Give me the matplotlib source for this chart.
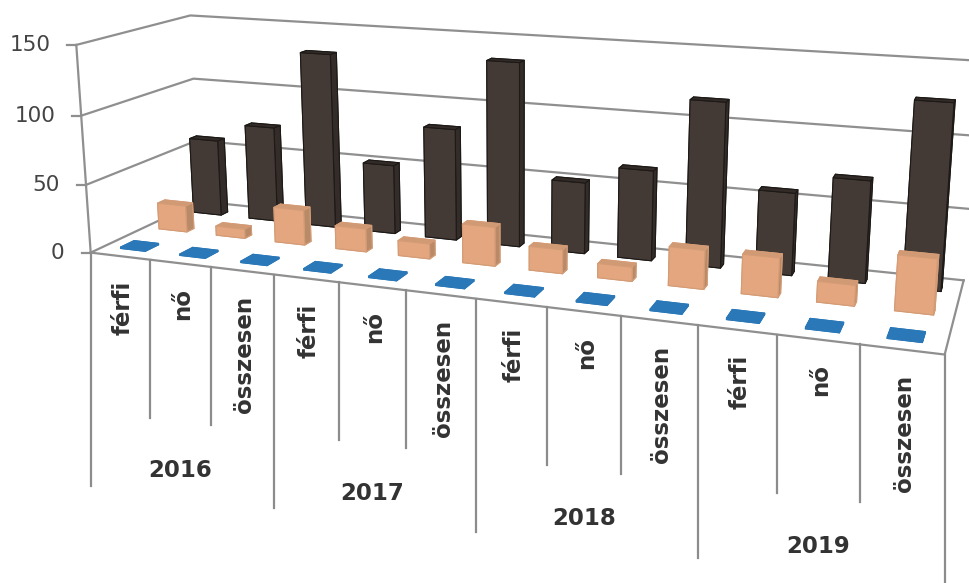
import matplotlib
matplotlib.use('Agg')
import matplotlib.pyplot as plt
from mpl_toolkits.mplot3d import proj3d

plt.rcParams['font.family'] = 'DejaVu Sans'

# adatok
nem = ['férfi', 'nő', 'összesen'] * 4
evek = ['2016', '2017', '2018', '2019']
sor_kek = [1, 1, 1, 1, 1, 1, 1, 1, 1, 1, 1, 1]
sor_narancs = [20, 7, 26, 17, 11, 28, 17, 10, 27, 27, 14, 37]
sor_sotet = [59, 73, 132, 52, 83, 135, 52, 65, 117, 58, 71, 127]
y_ticks = [0, 50, 100, 150]

W, H = 970, 583
fig = plt.figure(figsize=(W / 100, H / 100), dpi=100)
ax = fig.add_axes([21.57 / W, 122.46 / H, 1, 1], projection='3d', computed_zorder=False)
ax.set_xlim(0, 12)
ax.set_ylim(0, 3)
ax.set_zlim(0, 150)
ax.view_init(elev=13.83, azim=-69.98, roll=0.025)
ax.set_proj_type('persp', focal_length=0.4877)
ax.set_box_aspect((3.9384, 0.982, 1), zoom=1.5298)
ax.set_axis_off()
ax.patch.set_alpha(0)


def to_px(x, y, z):
    # 3D pont -> kep pixel
    ax.apply_aspect()
    tx, ty, _ = proj3d.proj_transform(x, y, z, ax.get_proj())
    p = ax.transData.transform((tx, ty))
    return p[0], H - p[1]


# racs
racs = '#8f8f8f'
for t in y_ticks:
    ax.plot([0, 0, 12], [0, 3, 3], [t, t, t], color=racs, lw=1.6, zorder=1)
ax.plot([0, 12, 12], [0, 0, 3], [0, 0, 0], color=racs, lw=1.6, zorder=1)
ax.plot([0, 0], [0, 0], [0, 150], color=racs, lw=1.6, zorder=1)


def oszlopok(ertekek, y_kozep, szelesseg, melyseg, szinek, el, zorder):
    for i, v in enumerate(ertekek):
        ax.bar3d(i + 0.5 - szelesseg / 2, y_kozep - melyseg / 2, 0, szelesseg, melyseg, v,
                 color=szinek, edgecolor=el, linewidth=0.8, shade=False, zorder=zorder)


# also, felso, eleje, hatulja, bal, jobb
oszlopok(sor_sotet, 2.5, 0.5, 0.2, ['#2a2522', '#332b27', '#443a35', '#2a2522', '#2a2522', '#342c28'],
         '#1c1917', 2)
oszlopok(sor_narancs, 1.5, 0.49, 0.2, ['#c98a60', '#d09a74', '#e3a67e', '#c98a60', '#c98a60', '#b98a68'],
         '#d49c76', 3)
oszlopok(sor_kek, 0.5, 0.42, 0.35, ['#2a78b8'] * 6, '#2a78b8', 4)

for art in list(ax.collections) + list(ax.lines):
    art.set_clip_on(False)

# feliratok 2D-ben a kep pixeleiben
ov = fig.add_axes([0, 0, 1, 1], zorder=5)
ov.set_xlim(0, W)
ov.set_ylim(H, 0)
ov.set_axis_off()

for t in y_ticks:
    px, py = to_px(0, 0, t)
    ov.plot([px - 9, px], [py, py], color=racs, lw=1.6)
    ov.text(px - 26, py, str(t), ha='right', va='center', fontsize=15.5, color='#444444')

vonal = '#8c8c8c'
for i in range(13):
    px, py = to_px(i, 0, 0)
    ov.plot([px, px], [py, py + (233 if i % 3 == 0 else 158)], color=vonal, lw=1.6)

for i, nev in enumerate(nem):
    px, py = to_px(i + 0.5, 0, 0)
    ov.text(px + 2.5, py + 25, nev, rotation=90, ha='center', va='top', fontsize=16.5,
            fontweight='bold', color='#333333')

for j, ev in enumerate(evek):
    px, py = to_px(3 * j + 1.5, 0, 0)
    ov.text(px, py + 207, ev, ha='center', va='center', fontsize=16.5,
            fontweight='bold', color='#333333')

fig.savefig('out.png', dpi=100)
